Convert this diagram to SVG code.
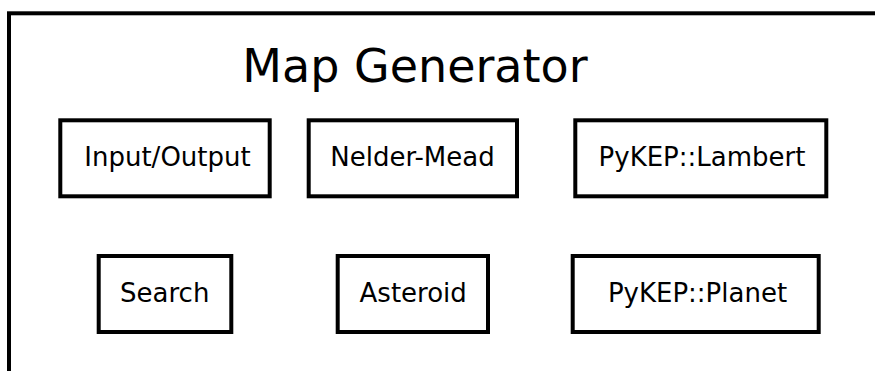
<svg xmlns="http://www.w3.org/2000/svg" width="875" height="371" viewBox="0 0 875 371">
<style>
.box{fill:#fff;stroke:#000;stroke-width:4}
.lbl{font-family:"DejaVu Sans",sans-serif;font-size:26px;fill:#000;text-anchor:middle}
.title{font-family:"DejaVu Sans",sans-serif;font-size:46px;fill:#000;text-anchor:middle}
</style>
<rect x="0" y="0" width="875" height="371" fill="#fff"/>
<g id="map-generator">
<rect x="9" y="13.3" width="900" height="400" fill="#fff" stroke="#000" stroke-width="4"/>
<text class="title" x="415" y="81.7">Map Generator</text>
</g>
<g id="connectors"></g>
<g id="input-output">
<rect class="box" x="60.3" y="120.3" width="209.4" height="76"/>
<text class="lbl" x="167.5" y="165.7">Input/Output</text>
</g>
<g id="nelder-mead">
<rect class="box" x="308.7" y="120.3" width="208.3" height="76"/>
<text class="lbl" x="412.5" y="165.7">Nelder-Mead</text>
</g>
<g id="pykep-lambert">
<rect class="box" x="575.3" y="120.3" width="251" height="76"/>
<text class="lbl" x="702" y="165.7">PyKEP::Lambert</text>
</g>
<g id="search">
<rect class="box" x="98.7" y="256" width="132.6" height="76"/>
<text class="lbl" x="164.7" y="302.3">Search</text>
</g>
<g id="asteroid">
<rect class="box" x="337.7" y="256" width="150.3" height="76"/>
<text class="lbl" x="413.2" y="302.3">Asteroid</text>
</g>
<g id="pykep-planet">
<rect class="box" x="572.7" y="256" width="246" height="76"/>
<text class="lbl" x="697.5" y="302.3">PyKEP::Planet</text>
</g>
</svg>
